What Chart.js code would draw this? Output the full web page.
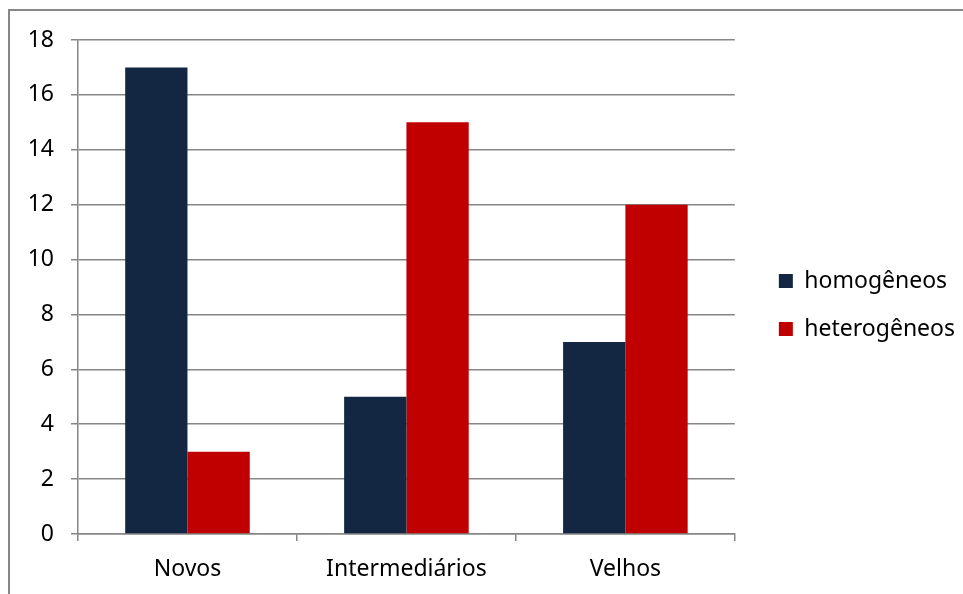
<!DOCTYPE html>
<html>
<head>
<meta charset="utf-8">
<script src="https://cdn.jsdelivr.net/npm/chart.js@4.4.0/dist/chart.umd.min.js"></script>
<style>
  html, body { margin: 0; padding: 0; background: #fff; overflow: hidden; }
  #frame { position: absolute; left: 8px; top: 9px; width: 1000px; height: 700px; border: 2px solid #878787; }
  #wrap { position: absolute; left: 0; top: 0; width: 963px; height: 594px; }
</style>
</head>
<body>
<div id="frame"></div>
<div id="wrap"><canvas id="chart" width="963" height="594"></canvas></div>
<script>
const categories = ['Novos', 'Intermediários', 'Velhos']
const homogeneos = [17, 5, 7]
const heterogeneos = [3, 15, 12]
const seriesNames = ['homogêneos', 'heterogêneos']
const yMin = 0
const yMax = 18
const yStep = 2

const gridColor = '#868686'
const font = { family: '"Noto Sans", sans-serif', size: 23 }

const ctx = document.getElementById('chart').getContext('2d')
const chart = new Chart(ctx, {
  type: 'bar',
  data: {
    labels: categories,
    datasets: [
      {
        label: seriesNames[0],
        data: homogeneos,
        backgroundColor: '#132642',
        categoryPercentage: 0.569,
        barPercentage: 1
      },
      {
        label: seriesNames[1],
        data: heterogeneos,
        backgroundColor: '#C00000',
        categoryPercentage: 0.569,
        barPercentage: 1
      }
    ]
  },
  options: {
    responsive: false,
    animation: false,
    layout: { padding: { left: 10, top: 40, right: -2, bottom: 0 } },
    scales: {
      x: {
        grid: { display: true, drawOnChartArea: false, color: gridColor, tickLength: 7, lineWidth: 1.5 },
        border: { color: gridColor, width: 1.5 },
        ticks: { color: '#000', font: font, padding: 15 },
        afterFit: scale => { scale.height = 60 }
      },
      y: {
        min: yMin,
        max: yMax,
        grid: { color: gridColor, tickLength: 7, lineWidth: 1.5 },
        border: { color: gridColor, width: 1.5 },
        ticks: { stepSize: yStep, color: '#000', font: font, padding: 17 },
        afterFit: scale => { scale.width = 68 }
      },
      // empty spacer between plot and legend
      spacer: {
        type: 'linear',
        position: 'right',
        grid: { display: false },
        border: { display: false },
        ticks: { display: false },
        afterFit: scale => { scale.width = 19 }
      }
    },
    plugins: {
      legend: {
        position: 'right',
        align: 'center',
        fullSize: false,
        maxWidth: 260,
        // blank title only pushes the items down a bit
        title: { display: true, text: '', font: { size: 10 }, padding: 12 },
        labels: {
          color: '#000',
          font: font,
          boxWidth: 14,
          boxHeight: 14,
          padding: 25
        }
      },
      tooltip: { enabled: false }
    }
  }
})
</script>
</body>
</html>
